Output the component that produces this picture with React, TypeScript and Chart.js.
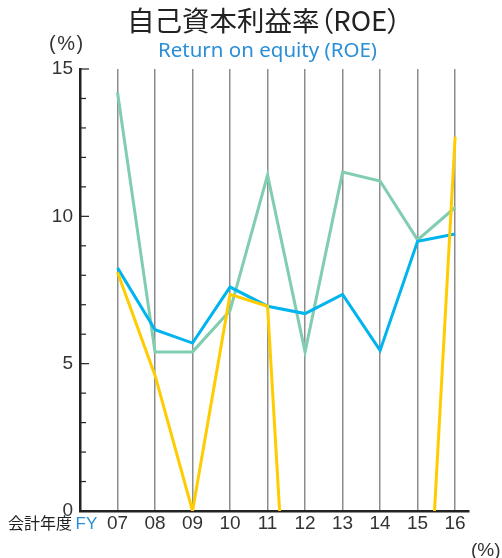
import React, { useEffect, useRef } from "react";
import { Chart, registerables } from "chart.js";

Chart.register(...registerables);

// ---- data ----
const years = ["07", "08", "09", "10", "11", "12", "13", "14", "15", "16"];
const yearValues = [7, 8, 9, 10, 11, 12, 13, 14, 15, 16];
const seriesGreen = [14.2, 5.4, 5.4, 6.8, 11.4, 5.4, 11.5, 11.2, 9.2, 10.3];
const seriesBlue = [8.25, 6.15, 5.7, 7.6, 6.95, 6.7, 7.35, 5.45, 9.15, 9.4];
const seriesYellow = [8.1, 4.6, 0, 7.35, 6.95, -14.7, -12, -12, -10.4, 12.7];
const yMajorTicks = [0, 5, 10, 15];
const yMinorTicks = [1, 2, 3, 4, 6, 7, 8, 9, 11, 12, 13, 14];

const GREEN = "#80cdb0";
const BLUE = "#00b4ee";
const YELLOW = "#ffcc00";
const TEXT_BLUE = "#2a8fd6";
const AXIS = "#222222";

const numFont = "'Liberation Sans', Arial, sans-serif";
const cjkFont = "'Noto Sans CJK JP', 'Noto Sans', sans-serif";

const innerTicks = {
  id: "innerTicks",
  afterDatasetsDraw(chart: any) {
    const y = chart.scales.y;
    const ctx = chart.ctx;
    const left = chart.chartArea.left;
    ctx.save();
    ctx.strokeStyle = AXIS;
    ctx.lineWidth = 1.2;
    yMinorTicks.forEach((v) => {
      const py = y.getPixelForValue(v);
      ctx.beginPath();
      ctx.moveTo(left, py);
      ctx.lineTo(left + 6, py);
      ctx.stroke();
    });
    yMajorTicks.forEach((v) => {
      const py = y.getPixelForValue(v);
      ctx.beginPath();
      ctx.moveTo(left, py);
      ctx.lineTo(left + 9, py);
      ctx.stroke();
    });
    ctx.restore();
  },
};

const toPoints = (arr: number[]) => arr.map((v, i) => ({ x: yearValues[i], y: v }));

export default function App() {
  const ref = useRef<HTMLCanvasElement | null>(null);

  useEffect(() => {
    if (!ref.current) return;
    const chart = new Chart(ref.current, {
      type: "line",
      data: {
        datasets: [
          {
            label: "yellow",
            data: toPoints(seriesYellow),
            borderColor: YELLOW,
            borderWidth: 3,
            pointRadius: 0,
            tension: 0,
            order: 1,
          },
          {
            label: "blue",
            data: toPoints(seriesBlue),
            borderColor: BLUE,
            borderWidth: 3,
            pointRadius: 0,
            tension: 0,
            order: 2,
          },
          {
            label: "green",
            data: toPoints(seriesGreen),
            borderColor: GREEN,
            borderWidth: 3,
            pointRadius: 0,
            tension: 0,
            order: 3,
          },
        ],
      },
      options: {
        animation: false,
        responsive: false,
        maintainAspectRatio: false,
        layout: { padding: { left: 0, top: 69, right: 33, bottom: 0 } },
        plugins: {
          legend: { display: false },
          tooltip: { enabled: false },
        },
        scales: {
          x: {
            type: "linear",
            min: 6,
            max: 16.37,
            afterBuildTicks: (scale: any) => {
              scale.ticks = yearValues.map((v) => ({ value: v }));
            },
            afterFit: (scale: any) => {
              scale.height = 47;
            },
            ticks: {
              callback: (v: any) => years[yearValues.indexOf(Number(v))] ?? "",
              color: "#333",
              font: { family: numFont, size: 19 },
              padding: 1,
              maxRotation: 0,
              autoSkip: false,
            },
            grid: {
              color: "#8c8c8c",
              lineWidth: 1.5,
              drawTicks: false,
            },
            border: { display: true, color: AXIS, width: 2.5 },
          },
          y: {
            type: "linear",
            min: 0,
            max: 15,
            afterBuildTicks: (scale: any) => {
              scale.ticks = yMajorTicks.map((v) => ({ value: v }));
            },
            afterFit: (scale: any) => {
              scale.width = 80;
            },
            ticks: {
              color: "#333",
              font: { family: numFont, size: 19 },
              padding: 7,
            },
            grid: { display: true, drawOnChartArea: false, drawTicks: false },
            border: { display: true, color: AXIS, width: 2.5 },
          },
        },
      },
      plugins: [innerTicks],
    });
    return () => chart.destroy();
  }, []);

  const abs = (s: React.CSSProperties): React.CSSProperties => ({
    position: "absolute",
    whiteSpace: "nowrap",
    lineHeight: 1,
    margin: 0,
    ...s,
  });

  return (
    <div
      style={{
        position: "absolute",
        left: 0,
        top: 0,
        width: 502,
        height: 558,
        overflow: "hidden",
        background: "#fff",
      }}
    >
      <canvas
        ref={ref}
        width={502}
        height={558}
        style={{ position: "absolute", left: 0, top: 0, width: 502, height: 558 }}
      />
      <div
        style={abs({
          left: 0,
          width: 528,
          top: 6,
          textAlign: "center",
          fontFamily: cjkFont,
          fontSize: 27.5,
          color: "#222",
          fontFeatureSettings: '"palt"',
        })}
      >
        自己資本利益率（ROE）
      </div>
      <div
        style={abs({
          left: 0,
          width: 535,
          top: 39,
          textAlign: "center",
          fontFamily: "'Noto Sans', sans-serif",
          fontSize: 20.5,
          color: TEXT_BLUE,
        })}
      >
        Return on equity (ROE)
      </div>
      <div
        style={abs({
          left: 49,
          top: 33,
          fontFamily: numFont,
          fontSize: 20,
          color: "#333",
          letterSpacing: 1.5,
        })}
      >
        (%)
      </div>
      <div
        style={abs({
          left: 471,
          top: 540,
          fontFamily: numFont,
          fontSize: 19,
          color: "#333",
          letterSpacing: 0,
        })}
      >
        (%)
      </div>
      <div
        style={abs({
          left: 8,
          top: 514,
          fontFamily: cjkFont,
          fontSize: 16,
          color: "#222",
        })}
      >
        会計年度 <span style={{ color: TEXT_BLUE, fontFamily: numFont, fontSize: 17 }}>FY</span>
      </div>
    </div>
  );
}
